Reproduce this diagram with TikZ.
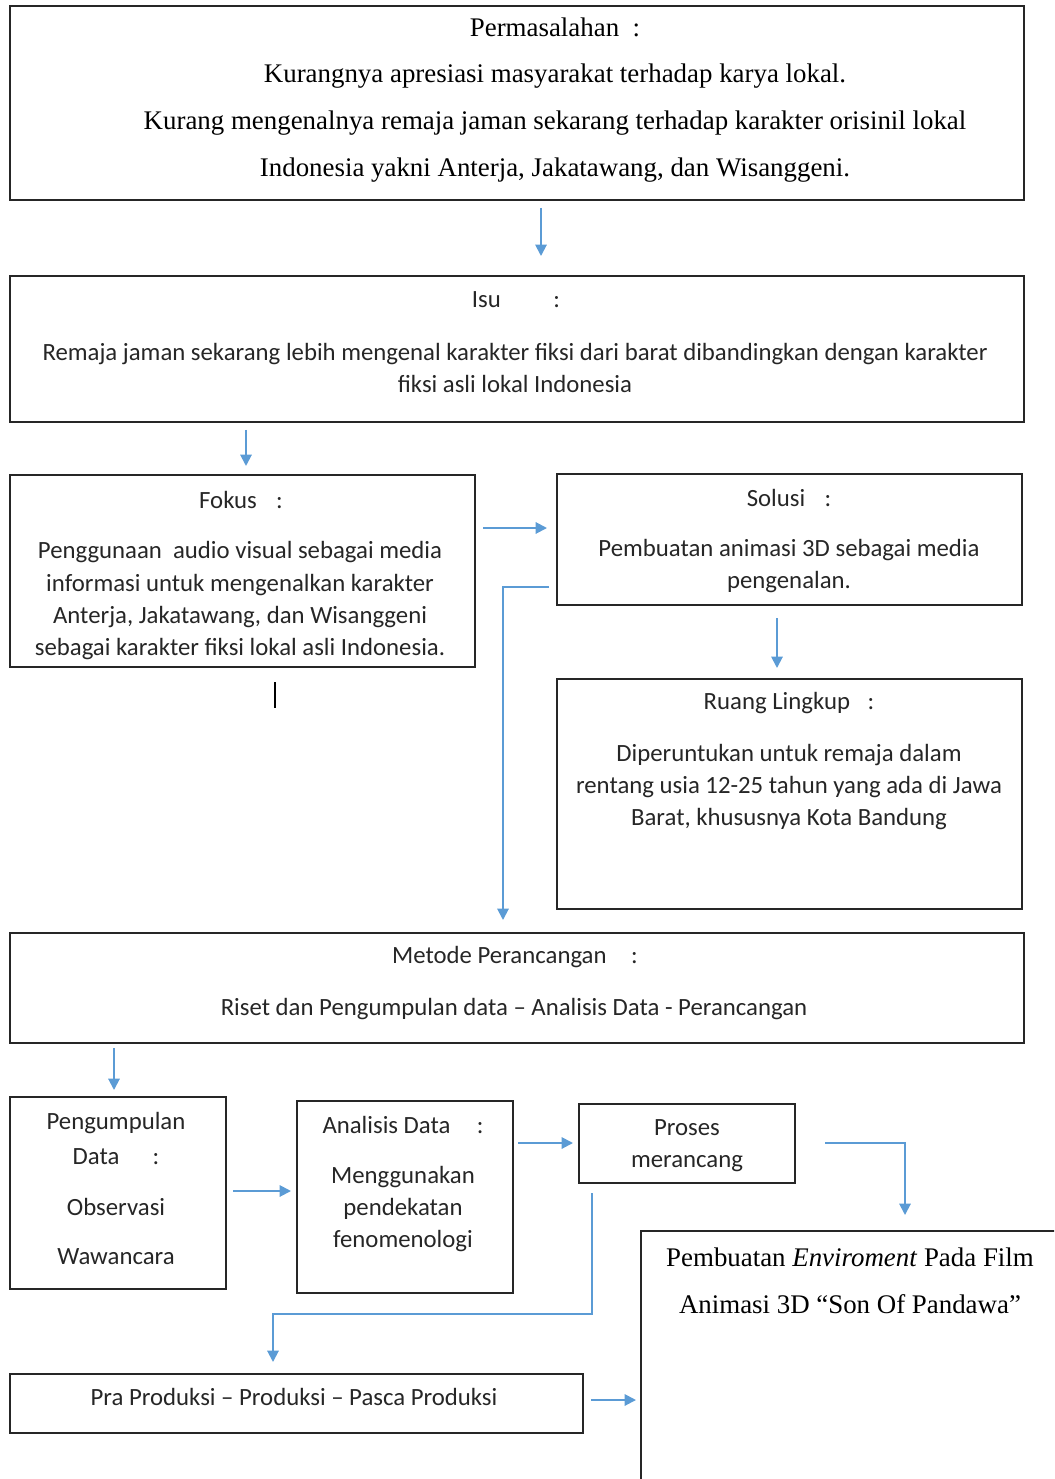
\documentclass[tikz,border=0pt]{standalone}
\usepackage{fontspec}
\setmainfont{Liberation Serif}
\newfontfamily\calibri{Carlito}
\usetikzlibrary{arrows.meta,fit}

\definecolor{arrowblue}{RGB}{91,155,213}

\tikzset{
  box/.style={draw=black!85, line width=1.1pt, inner sep=0pt},
  arr/.style={arrowblue, line width=1.1pt, -{Triangle[length=6.5pt,width=6.5pt]}},
  sertxt/.style={font=\fontsize{15.3}{26.7}\selectfont, align=center, inner sep=0pt},
  sanstxt/.style={font=\calibri\fontsize{14.1}{18.4}\selectfont, align=center, inner sep=0pt, text=black!85},
}

\begin{document}
\begin{tikzpicture}[x=0.02cm, y=-0.02cm]
  \useasboundingbox (0,0) rectangle (1054,1479);
  \clip (0,0) rectangle (1054,1479);

  % boxes
  \node[box, fit={(10,6) (1024,200)}] (perm) {};
  \node[box, fit={(10,276) (1024,422)}] (isu) {};
  \node[box, fit={(10,475) (475,667)}] (fokus) {};
  \node[box, fit={(557,474) (1022,605)}] (solusi) {};
  \node[box, fit={(557,679) (1022,909)}] (ruang) {};
  \node[box, fit={(10,933) (1024,1043)}] (metode) {};
  \node[box, fit={(10,1097) (226,1289)}] (kumpul) {};
  \node[box, fit={(297,1101) (513,1293)}] (analisis) {};
  \node[box, fit={(579,1104) (795,1183)}] (proses) {};
  \node[box, fit={(10,1374) (583,1433)}] (produksi) {};
  \node[box, fit={(641,1231) (1070,1500)}] (hasil) {};

  % texts
  \node[sertxt] (permtxt) at (555,100) {Permasalahan\ \ :\\
    Kurangnya apresiasi masyarakat terhadap karya lokal.\\
    Kurang mengenalnya remaja jaman sekarang terhadap karakter orisinil lokal\\
    Indonesia yakni Anterja, Jakatawang, dan Wisanggeni.};

  \node[sanstxt] (isujudul) at (516,300) {Isu\hspace{30pt}:};
  \node[sanstxt] (isutxt) at (515,368) {Remaja jaman sekarang lebih mengenal karakter fiksi dari barat dibandingkan dengan karakter\\
    fiksi asli lokal Indonesia};

  \node[sanstxt] (fokusjudul) at (241,500) {Fokus\hspace{11pt}:};
  \node[sanstxt] (fokustxt) at (240,601) {Penggunaan\ \ audio visual sebagai media\\
    informasi untuk mengenalkan karakter\\
    Anterja, Jakatawang, dan Wisanggeni\\
    sebagai karakter fiksi lokal asli Indonesia.};

  \node[sanstxt] (solusijudul) at (789,498) {Solusi\hspace{11pt}:};
  \node[sanstxt] (solusitxt) at (789,566) {Pembuatan animasi 3D sebagai media\\
    pengenalan.};

  \node[sanstxt] (ruangjudul) at (789,703) {Ruang Lingkup\hspace{10pt}:};
  \node[sanstxt] (ruangtxt) at (789,787) {Diperuntukan untuk remaja dalam\\
    rentang usia 12-25 tahun yang ada di Jawa\\
    Barat, khususnya Kota Bandung};

  \node[sanstxt] (metodejudul) at (515,957) {Metode Perancangan\hspace{14pt}:};
  \node[sanstxt] (metodetxt) at (514,1009) {Riset dan Pengumpulan data – Analisis Data - Perancangan};

  \node[sanstxt] (kumpultxt) at (116,1123) {Pengumpulan};
  \node[sanstxt] (kumpuldata) at (116,1157) {Data\hspace{19pt}:};
  \node[sanstxt] (observasi) at (116,1207) {Observasi};
  \node[sanstxt] (wawancara) at (116,1257) {Wawancara};

  \node[sanstxt] (analisisjudul) at (403,1125) {Analisis Data\hspace{15pt}:};
  \node[sanstxt] (analisistxt) at (403,1209) {Menggunakan\\ pendekatan\\ fenomenologi};

  \node[sanstxt] (prosestxt) at (687,1146) {Proses\\ merancang};

  \node[sanstxt] (produksitxt) at (294,1397) {Pra Produksi – Produksi – Pasca Produksi};

  \node[sertxt] (hasiltxt) at (850,1281) {Pembuatan \textit{Enviroment} Pada Film\\
    Animasi 3D “Son Of Pandawa”};

  % connectors
  \coordinate (p1) at (541,208);  \coordinate (p2) at (541,256);
  \coordinate (i1) at (246,430);  \coordinate (i2) at (246,466);
  \coordinate (f1) at (483,528);  \coordinate (f2) at (547,528);
  \coordinate (s1) at (549,587);  \coordinate (s2) at (503,920);
  \coordinate (s3) at (777,618);  \coordinate (s4) at (777,668);
  \coordinate (m1) at (114,1048); \coordinate (m2) at (114,1090);
  \coordinate (k1) at (233,1191); \coordinate (k2) at (291,1191);
  \coordinate (a1) at (518,1143); \coordinate (a2) at (573,1143);
  \coordinate (r1) at (825,1143); \coordinate (r2) at (905,1215);
  \coordinate (r3) at (592,1193); \coordinate (r4) at (273,1362);
  \coordinate (d1) at (591,1400); \coordinate (d2) at (636,1400);

  \draw[arr] (p1) -- (p2);
  \draw[arr] (i1) -- (i2);
  \draw[arr] (f1) -- (f2);
  \draw[arr] (s1) -| (s2);
  \draw[arr] (s3) -- (s4);
  \draw[arr] (m1) -- (m2);
  \draw[arr] (k1) -- (k2);
  \draw[arr] (a1) -- (a2);
  \draw[arr] (r1) -| (r2);
  \draw[arr] (r3) |- (273,1314) -- (r4);
  \draw[arr] (d1) -- (d2);

  % stray mark below Fokus
  \draw[line width=1.2pt] (275,682) -- (275,708);
\end{tikzpicture}
\end{document}
